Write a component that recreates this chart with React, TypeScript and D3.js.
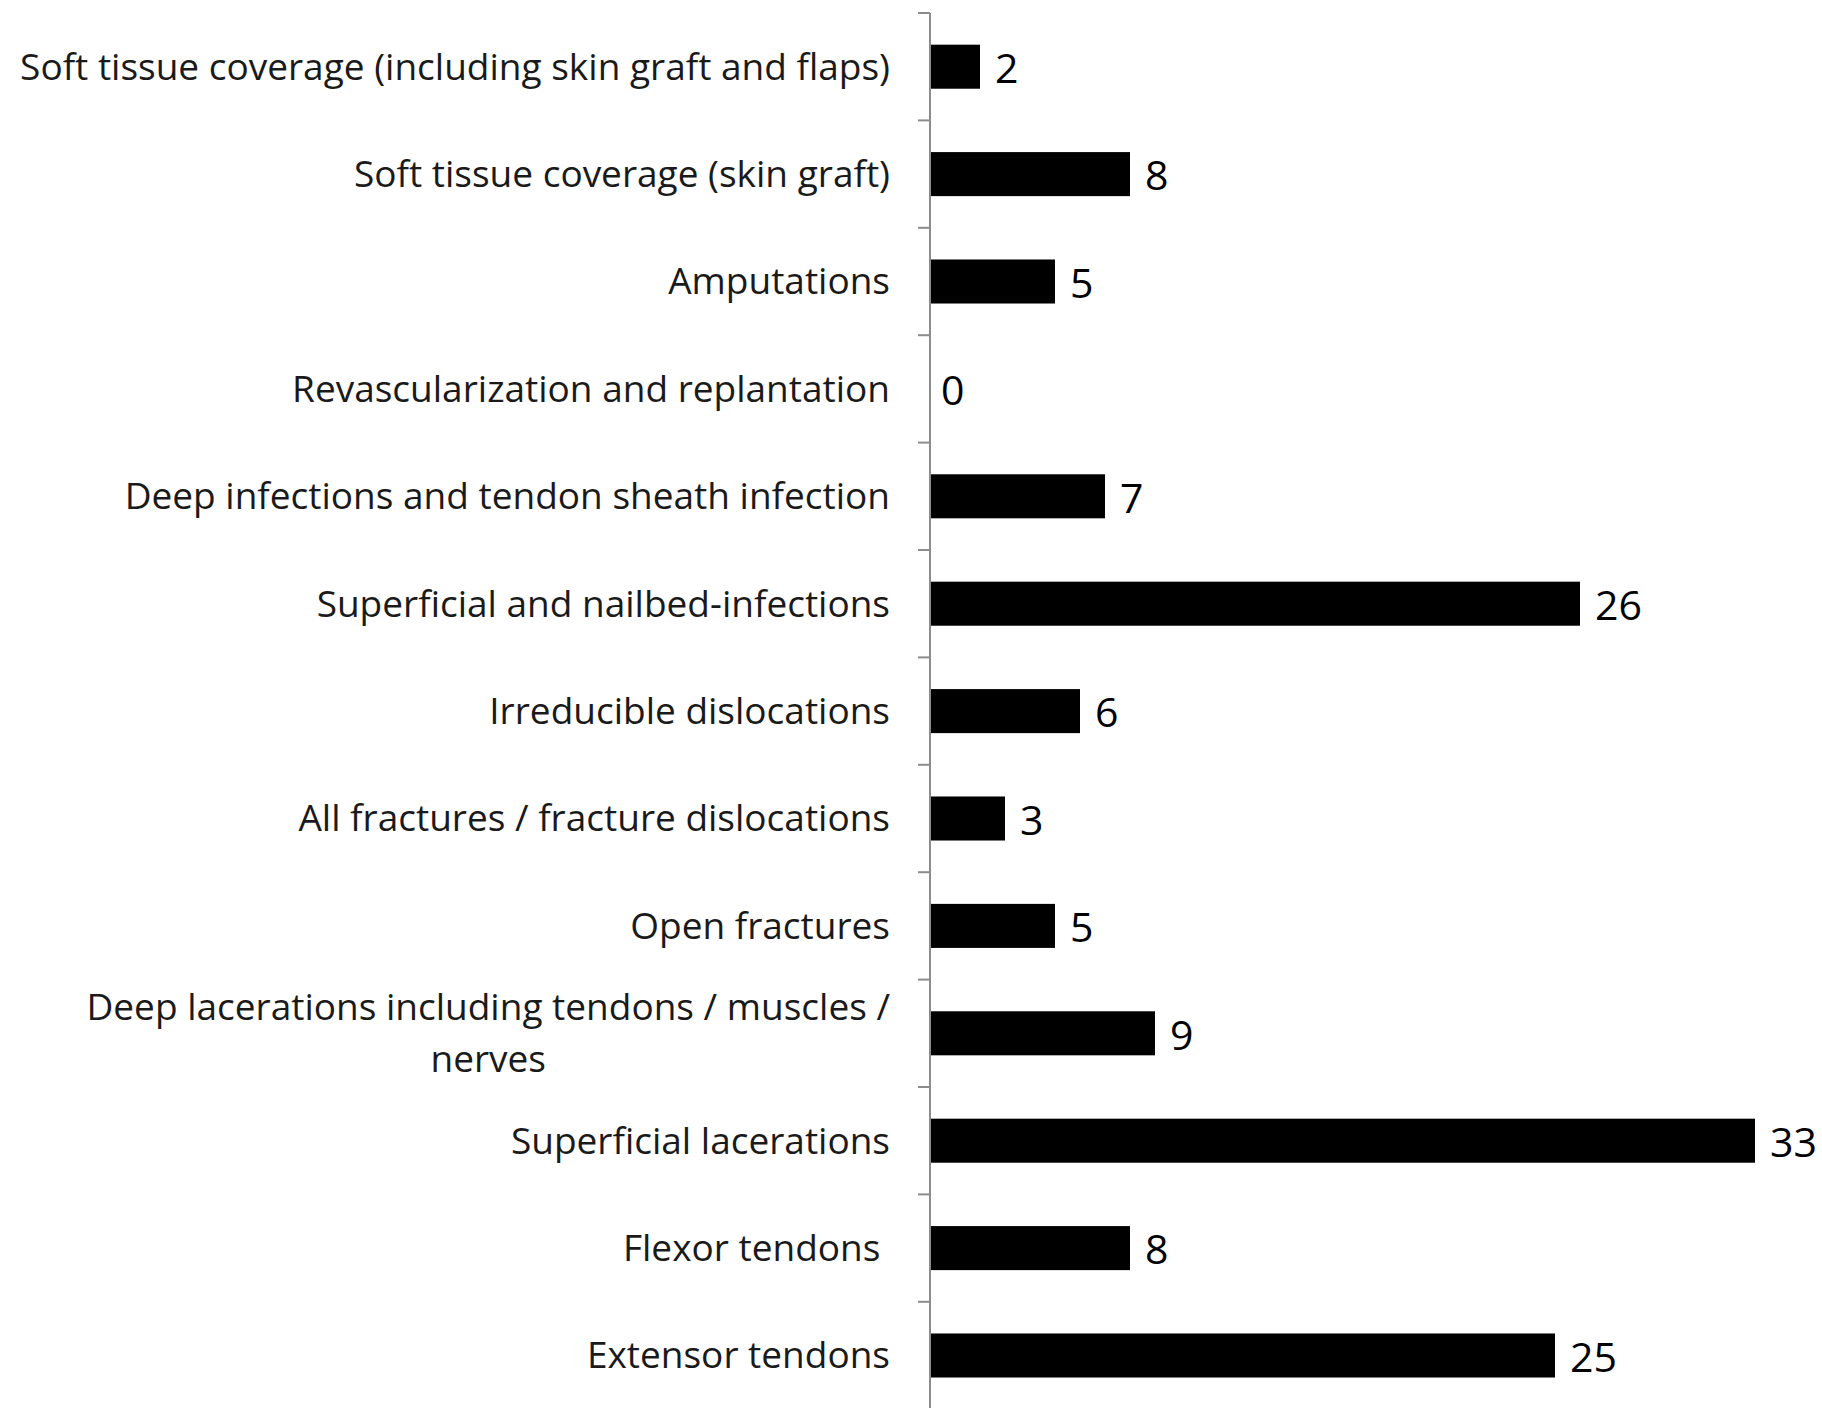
import React, { useRef, useEffect } from 'react';
import * as d3 from 'd3';

// categories top to bottom, "\n" marks the wrapped label
const categories = [
  "Soft tissue coverage (including skin graft and flaps)",
  "Soft tissue coverage (skin graft)",
  "Amputations",
  "Revascularization and replantation",
  "Deep infections and tendon sheath infection",
  "Superficial and nailbed-infections",
  "Irreducible dislocations",
  "All fractures / fracture dislocations",
  "Open fractures",
  "Deep lacerations including tendons / muscles /\nnerves",
  "Superficial lacerations",
  "Flexor tendons ",
  "Extensor tendons",
];

const counts = [2, 8, 5, 0, 7, 26, 6, 3, 5, 9, 33, 8, 25];

const W = 1822;
const H = 1408;

export default function App() {
  const ref = useRef<SVGSVGElement>(null);

  useEffect(() => {
    if (!ref.current) return;
    const svg = d3.select(ref.current);
    svg.selectAll("*").remove();

    const axisX = 930;
    const top = 13;
    const step = 107.4;
    const font = "'Open Sans', Lato, sans-serif";
    const fontSize = 37;
    const valueSize = 41;

    const y = d3.scaleBand<number>()
      .domain(d3.range(categories.length))
      .range([top, top + step * categories.length])
      .paddingInner(0.59)
      .paddingOuter(0.295);

    const x = d3.scaleLinear()
      .domain([0, 33])
      .range([axisX, axisX + 825]);

    // bars
    svg.append("g")
      .selectAll("rect")
      .data(counts)
      .enter()
      .append("rect")
      .attr("x", x(0))
      .attr("y", (_, i) => y(i) || 0)
      .attr("width", d => x(d) - x(0))
      .attr("height", y.bandwidth())
      .attr("fill", "#000");

    // axis line + ticks at band boundaries
    const g = svg.append("g");
    g.append("line")
      .attr("x1", axisX).attr("x2", axisX)
      .attr("y1", top).attr("y2", H)
      .attr("stroke", "#8c8c8c")
      .attr("stroke-width", 2);
    d3.range(categories.length + 1).forEach(i => {
      const ty = top + i * step;
      g.append("line")
        .attr("x1", axisX - 12).attr("x2", axisX)
        .attr("y1", ty).attr("y2", ty)
        .attr("stroke", "#8c8c8c")
        .attr("stroke-width", 2);
    });

    // category labels
    categories.forEach((c, i) => {
      const cy = (y(i) || 0) + y.bandwidth() / 2;
      const lines = c.split("\n");
      if (lines.length === 1) {
        svg.append("text")
          .attr("x", axisX - 40)
          .attr("y", cy)
          .attr("dy", "0.35em")
          .attr("text-anchor", "end")
          .style("font-family", font)
          .style("font-size", fontSize + "px")
          .style("fill", "#1a1a1a")
          .style("white-space", "pre")
          .text(c);
      } else {
        // wrapped label: centered lines, first line right edge at axis-40
        const t = svg.append("text")
          .attr("text-anchor", "middle")
          .style("font-family", font)
          .style("font-size", fontSize + "px")
          .style("fill", "#1a1a1a");
        const first = t.append("tspan").text(lines[0]).attr("x", 0).attr("y", cy - 26).attr("dy", "0.35em");
        const w = (first.node() as SVGTSpanElement).getComputedTextLength();
        const cx = axisX - 40 - w / 2;
        first.attr("x", cx);
        lines.slice(1).forEach((l, k) => {
          t.append("tspan").text(l).attr("x", cx).attr("y", cy + 26 + k * 52).attr("dy", "0.35em");
        });
      }
    });

    // value labels
    svg.append("g")
      .selectAll("text")
      .data(counts)
      .enter()
      .append("text")
      .attr("x", d => x(d) + (d === 0 ? 11 : 15))
      .attr("y", (_, i) => (y(i) || 0) + y.bandwidth() / 2 + 2)
      .attr("dy", "0.35em")
      .style("font-family", font)
      .style("font-size", valueSize + "px")
      .style("fill", "#000")
      .text(d => d);
  }, []);

  return (
    <svg
      ref={ref}
      width={W}
      height={H}
      style={{ position: 'absolute', left: 0, top: 0, background: '#fff' }}
    />
  );
}
